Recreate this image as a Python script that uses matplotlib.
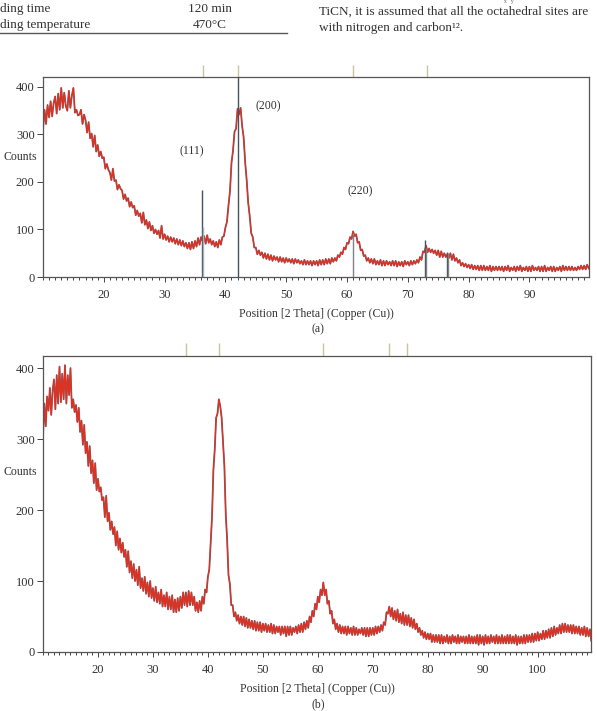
import numpy as np
import matplotlib.pyplot as plt
from matplotlib.lines import Line2D
from matplotlib.ticker import MultipleLocator

plt.rcParams['font.family'] = ['Liberation Serif', 'DejaVu Serif']

# digitised scans, 2theta from 10 deg in steps of 0.25 deg
start = 10.0
step = 0.25

counts_a = [
    310, 352, 322, 362, 336, 370, 338, 366, 380, 344, 386, 352, 398, 356, 388, 360, 350, 392, 356, 382,
    398, 346, 352, 340, 342, 352, 322, 342, 330, 304, 326, 292, 302, 274, 298, 264, 278, 254, 264, 250,
    252, 228, 238, 226, 220, 204, 228, 202, 204, 184, 194, 186, 182, 164, 174, 160, 166, 148, 158, 146,
    150, 130, 140, 128, 134, 114, 136, 110, 120, 102, 116, 98, 108, 92, 100, 90, 98, 82, 108, 80,
    90, 78, 86, 74, 84, 74, 82, 70, 80, 68, 78, 66, 76, 64, 72, 60, 72, 58, 74, 60,
    76, 64, 82, 68, 84, 76, 86, 70, 88, 72, 80, 68, 76, 64, 74, 62, 78, 68, 84, 86,
    104, 116, 150, 180, 240, 266, 306, 312, 354, 342, 356, 318, 294, 242, 204, 156, 128, 92, 84, 62,
    62, 48, 56, 46, 52, 40, 50, 38, 48, 36, 46, 34, 44, 36, 42, 32, 42, 32, 40, 30,
    40, 32, 38, 30, 38, 28, 38, 30, 36, 28, 34, 26, 36, 26, 34, 26, 34, 24, 34, 26,
    34, 24, 36, 26, 36, 26, 38, 28, 38, 28, 40, 32, 40, 34, 46, 42, 52, 48, 62, 58,
    72, 70, 84, 80, 96, 86, 90, 72, 74, 56, 58, 44, 46, 34, 40, 30, 38, 28, 38, 26,
    34, 26, 36, 24, 34, 24, 34, 26, 32, 24, 34, 24, 34, 22, 32, 24, 32, 22, 34, 26,
    32, 24, 34, 26, 34, 28, 36, 30, 42, 36, 54, 52, 66, 52, 60, 52, 58, 50, 56, 46,
    56, 42, 54, 42, 50, 42, 48, 40, 50, 36, 48, 34, 40, 30, 36, 24, 30, 22, 28, 20,
    26, 18, 26, 16, 24, 16, 24, 14, 24, 14, 24, 14, 22, 14, 24, 12, 22, 14, 22, 14,
    22, 14, 22, 12, 22, 14, 24, 12, 20, 14, 22, 12, 22, 14, 24, 12, 20, 14, 22, 12,
    22, 12, 24, 14, 20, 14, 22, 12, 22, 12, 24, 12, 20, 14, 22, 12, 22, 12, 20, 14,
    22, 12, 24, 14, 22, 14, 22, 14, 22, 14, 20, 14, 22, 16, 24, 16, 24, 16, 26, 18,
]

counts_b = [
    304, 350, 318, 360, 340, 372, 334, 368, 384, 342, 390, 350, 402, 352, 392, 356, 404, 350, 390, 362,
    400, 344, 356, 338, 348, 324, 344, 310, 326, 292, 320, 280, 296, 262, 290, 252, 270, 238, 266, 228,
    244, 226, 232, 214, 218, 190, 220, 184, 196, 172, 184, 166, 176, 150, 170, 144, 160, 140, 154, 134,
    144, 120, 142, 112, 128, 104, 124, 100, 116, 94, 120, 90, 104, 86, 106, 82, 98, 78, 100, 76,
    90, 72, 92, 70, 84, 68, 88, 64, 80, 64, 84, 60, 78, 60, 80, 56, 74, 56, 76, 58,
    78, 62, 84, 66, 84, 64, 86, 66, 84, 66, 78, 58, 70, 56, 72, 58, 78, 68, 88, 84,
    106, 116, 152, 190, 256, 286, 330, 336, 356, 346, 330, 296, 262, 194, 158, 108, 96, 66, 66, 50,
    56, 44, 52, 40, 50, 38, 50, 36, 48, 34, 46, 34, 44, 32, 44, 30, 42, 30, 42, 28,
    40, 30, 40, 28, 38, 28, 40, 26, 38, 26, 36, 28, 36, 24, 36, 26, 36, 22, 36, 24,
    36, 24, 34, 28, 36, 26, 38, 28, 40, 28, 42, 32, 44, 34, 50, 42, 58, 50, 68, 60,
    78, 70, 88, 80, 98, 80, 88, 68, 72, 54, 58, 40, 46, 32, 40, 28, 38, 26, 36, 26,
    36, 24, 36, 26, 34, 24, 36, 24, 34, 24, 32, 26, 34, 24, 34, 22, 34, 22, 34, 24,
    34, 24, 36, 26, 36, 28, 38, 30, 42, 38, 56, 54, 64, 50, 62, 46, 58, 44, 60, 42,
    54, 40, 56, 38, 52, 38, 52, 36, 48, 34, 46, 32, 40, 28, 34, 24, 30, 20, 28, 18,
    26, 18, 26, 14, 24, 14, 24, 14, 24, 12, 24, 12, 22, 14, 24, 12, 22, 12, 24, 14,
    22, 12, 24, 12, 22, 14, 22, 12, 22, 12, 24, 12, 22, 12, 22, 12, 24, 10, 24, 12,
    22, 10, 24, 12, 22, 12, 24, 14, 22, 12, 24, 12, 22, 12, 24, 12, 22, 12, 24, 12,
    24, 12, 22, 12, 24, 10, 22, 12, 22, 12, 24, 12, 24, 14, 24, 14, 26, 14, 26, 16,
    28, 16, 26, 18, 30, 18, 30, 20, 32, 20, 34, 22, 36, 24, 34, 26, 38, 26, 40, 28,
    40, 28, 38, 28, 38, 26, 38, 26, 36, 26, 36, 24, 34, 24, 36, 22, 34, 22, 32, 16,
]

# reference pattern sticks (panel a)
stick_pos = [36.1, 36.25, 42.0, 61.0, 72.85, 73.05, 76.4, 76.65]
stick_height = [183, 105, 430, 93, 78, 60, 53, 50]
stick_color = ['#46525c', '#9fb3bd', '#46525c', '#7d8388', '#46525c', '#7d8388', '#46525c', '#7d8388']

# peak markers above each frame
marks_a = [36.3, 42.0, 61.0, 73.1]
marks_b = [36.0, 42.0, 61.0, 73.0, 76.2]

hkl_labels = ['(111)', '(200)', '(220)']
hkl_x = [34.5, 47.0, 62.1]
hkl_y = [265, 360, 181]

fs = 8.5
W, H = 597, 711
fig = plt.figure(figsize=(W / 100, H / 100), dpi=100)


def frac(x0, y0, x1, y1):
    return [x0 / W, 1 - y1 / H, (x1 - x0) / W, (y1 - y0) / H]


def panel(ax, counts, xmax, ymax, marks, mark_len, xticks):
    x = start + step * np.arange(len(counts))
    ax.plot(x, counts, color='#6b6578', lw=1.3, zorder=2)
    ax.plot(x, counts, color='#f02a14', lw=0.8, zorder=2.5)
    ax.set_xlim(start, xmax)
    ax.set_ylim(0, ymax)
    ax.set_xticks(xticks)
    ax.xaxis.set_minor_locator(MultipleLocator(1))
    ax.set_yticks([0, 100, 200, 300, 400])
    ax.tick_params(which='both', direction='out', colors='#444444', labelcolor='#333333',
                   labelsize=9, width=0.7)
    ax.tick_params(axis='x', which='major', length=3.5, pad=5)
    ax.tick_params(axis='x', which='minor', length=2)
    ax.tick_params(axis='y', length=4, pad=2)
    for s in ax.spines.values():
        s.set_color('#555555')
        s.set_linewidth(0.9)
    ax.vlines(marks, 1.0, 1.0 + mark_len, transform=ax.get_xaxis_transform(),
              colors='#c9c59c', lw=1.0, clip_on=False)
    ax.set_xlabel('Position [2 Theta] (Copper (Cu))', fontsize=fs, color='#333333', labelpad=5)


# (a)
ax1 = fig.add_axes(frac(43, 77, 589, 277))
panel(ax1, counts_a, 99.8, 421, marks_a, 0.06, range(20, 100, 10))
ax1.vlines(stick_pos, 0, stick_height, colors=stick_color, lw=1.0, zorder=3)
for lab, hx, hy in zip(hkl_labels, hkl_x, hkl_y):
    ax1.text(hx, hy, lab, fontsize=fs, ha='center', va='center', color='#333333')

# (b)
ax2 = fig.add_axes(frac(43, 356, 591, 652))
panel(ax2, counts_b, 109.7, 417, marks_b, 0.044, range(20, 110, 10))

fig.text(4 / W, 1 - 157 / H, 'Counts', fontsize=fs, va='center', ha='left', color='#333333')
fig.text(4 / W, 1 - 472 / H, 'Counts', fontsize=fs, va='center', ha='left', color='#333333')
fig.text(318 / W, 1 - 329 / H, '(a)', fontsize=fs, ha='center', va='center', color='#333333')
fig.text(318 / W, 1 - 704 / H, '(b)', fontsize=fs, ha='center', va='center', color='#333333')

# page text cut off above the figure
tfs = 9.5
fig.text(0, 1 - 9 / H, 'ding time', fontsize=tfs, va='center', color='#333333')
fig.text(0, 1 - 25 / H, 'ding temperature', fontsize=tfs, va='center', color='#333333')
fig.text(210 / W, 1 - 9 / H, '120 min', fontsize=tfs, va='center', ha='center', color='#333333')
fig.text(210 / W, 1 - 25 / H, '470°C', fontsize=tfs, va='center', ha='center', color='#333333')
fig.add_artist(Line2D([0, 287 / W], [1 - 33 / H, 1 - 33 / H], color='#555555', lw=1.0))
fig.text(319 / W, 1 - 12 / H, 'TiCN, it is assumed that all the octahedral sites are',
         fontsize=tfs, va='center', color='#333333')
fig.text(319 / W, 1 - 28 / H, 'with nitrogen and carbon¹².', fontsize=tfs, va='center',
         color='#333333')
fig.text(504 / W, 1 - 2 / H, 'x   y', fontsize=4, va='center', color='#555555')

fig.savefig('out.png', dpi=100)
